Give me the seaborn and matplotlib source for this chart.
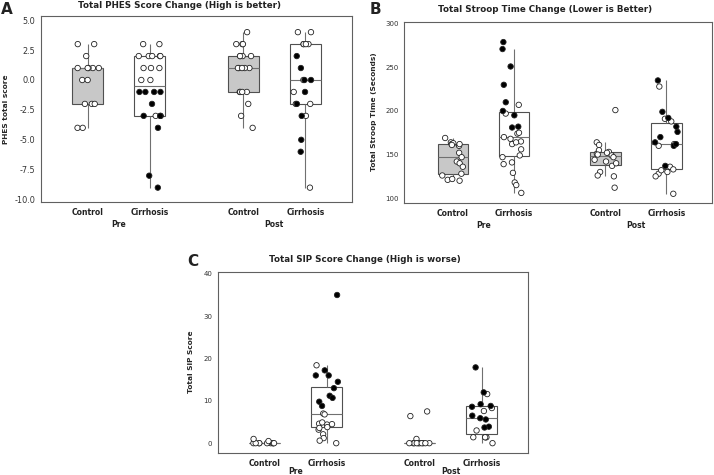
import numpy as np
import pandas as pd
import matplotlib.pyplot as plt
import seaborn as sns

times = ['Pre', 'Post']
groups = ['Control', 'Cirrhosis']

# Panel A: PHES total score (controls all open circles)
phes_ctrl_pre = [3, 3, 2, 1, 1, 1, 1, 1, 0, 0, -2, -2, -2, -4, -4]
phes_ctrl_post = [4, 3, 3, 3, 2, 2, 2, 2, 1, 1, 1, 1, 1, -1, -1, -1, -1, -2, -3, -4]
phes_cirr_pre_open = [3, 3, 2, 2, 2, 2, 2, 1, 1, 1, 0, 0, -3]
phes_cirr_pre_filled = [-1, -1, -1, -1, -2, -3, -3, -3, -4, -8, -9]
phes_cirr_post_open = [4, 4, 3, 3, 3, 3, 0, -1, -2, -2, -3, -9]
phes_cirr_post_filled = [2, 1, 0, 0, -1, -2, -3, -5, -6]

# Panel B: Stroop time (seconds)
stroop_ctrl_pre = [169, 164, 162, 160, 162, 163, 161, 152, 147, 142, 140, 136, 126, 128, 121, 122, 120]
stroop_ctrl_post = [201, 164, 161, 153, 151, 155, 152, 150, 149, 147, 144, 142, 137, 140, 130, 126, 125, 112]
stroop_cirr_pre_open = [207, 197, 174, 170, 168, 165, 162, 164, 175, 156, 149, 147, 141, 129, 139, 118, 115, 106]
stroop_cirr_pre_filled = [279, 271, 251, 230, 210, 200, 195, 182, 181]
stroop_cirr_post_open = [228, 191, 188, 162, 160, 136, 133, 130, 128, 125, 132, 105]
stroop_cirr_post_filled = [235, 199, 192, 182, 176, 170, 164, 160, 162, 137]

# Panel C: SIP score
sip_ctrl_pre = [0, 0, 0, 0, 0, 0, 0, 0, 0, 1.0, 0.5]
sip_ctrl_post = [7.5, 6.4, 1.0, 0, 0, 0, 0, 0, 0, 0, 0, 0, 0]
sip_cirr_pre_open = [18.4, 7.0, 6.8, 4.6, 4.4, 3.8, 4.9, 4.5, 3.2, 3.6, 2.1, 1.2, 0.6, 0.0]
sip_cirr_pre_filled = [35, 17.2, 16, 16, 14.5, 13, 11.2, 10.7, 9.8, 8.8]
sip_cirr_post_open = [11.6, 8.3, 7.6, 3.0, 1.4, 1.4, 1.4, 1.4, 0]
sip_cirr_post_filled = [17.9, 12.0, 8.6, 8.8, 9.2, 5.9, 6.5, 5.6, 3.9, 3.7]


def make_frame(ctrl_pre, ctrl_post, cirr_pre_open, cirr_pre_filled, cirr_post_open, cirr_post_filled):
    parts = [
        ('Pre', 'Control', ctrl_pre, False),
        ('Pre', 'Cirrhosis', cirr_pre_open, False),
        ('Pre', 'Cirrhosis', cirr_pre_filled, True),
        ('Post', 'Control', ctrl_post, False),
        ('Post', 'Cirrhosis', cirr_post_open, False),
        ('Post', 'Cirrhosis', cirr_post_filled, True),
    ]
    rows = []
    for t, g, vals, filled in parts:
        for v in vals:
            rows.append({'time': t, 'group': g, 'value': v, 'filled': filled})
    return pd.DataFrame(rows)


def draw_panel(ax, df, ylabel, yticks, ylim, xlim, fmt, ytick_size, time_pad, labelpad):
    sns.boxplot(data=df, x='time', y='value', hue='group', order=times, hue_order=groups,
                palette={'Control': '#c8c8c8', 'Cirrhosis': 'white'}, gap=0.5,
                showfliers=False, showcaps=False, linecolor='#505050', linewidth=0.8,
                medianprops={'color': '#707070'}, whiskerprops={'color': '#707070'},
                legend=False, ax=ax)
    for filled, face in [(False, 'white'), (True, 'black')]:
        sub = df[df['filled'] == filled]
        sns.stripplot(data=sub, x='time', y='value', hue='group', order=times, hue_order=groups,
                      palette={'Control': face, 'Cirrhosis': face}, dodge=True, jitter=0.15,
                      size=3.9, edgecolor='#222222', linewidth=0.6, legend=False, ax=ax)
    ax.set_xlim(*xlim)
    ax.set_ylim(*ylim)
    ax.set_yticks(yticks, labels=[fmt.format(v) for v in yticks])
    ax.set_xticks([-0.2, 0.2, 0.8, 1.2], labels=groups * 2, minor=True)
    ax.set_xticks([0, 1], labels=times)
    ax.tick_params(axis='x', which='major', length=0, pad=time_pad, labelsize=5.5, colors='#222222')
    ax.tick_params(axis='x', which='minor', length=2.5, pad=2, labelsize=5.5, colors='#222222',
                   color='#555555')
    ax.tick_params(axis='y', length=2.5, pad=1.5, labelsize=ytick_size, labelcolor='#333333',
                   color='#555555')
    for lab in ax.get_xticklabels(minor=True) + ax.get_xticklabels():
        lab.set_fontweight('bold')
    ax.set_xlabel('')
    ax.set_ylabel(ylabel, fontsize=5.3, fontweight='bold', labelpad=labelpad)
    for sp in ax.spines.values():
        sp.set_color('#606060')
        sp.set_linewidth(0.8)


sns.set_theme(style='white')
plt.rcParams['font.family'] = ['DejaVu Sans']
plt.rcParams['axes.unicode_minus'] = False
np.random.seed(7)

fig = plt.figure(figsize=(7.14, 4.75), dpi=100)
ax_a = fig.add_axes([41 / 714, 1 - 202 / 475, 311 / 714, 186 / 475])
ax_b = fig.add_axes([404 / 714, 1 - 202.5 / 475, 308 / 714, 181 / 475])
ax_c = fig.add_axes([218 / 714, 1 - 452.5 / 475, 310 / 714, 181 / 475])

draw_panel(ax_a, make_frame(phes_ctrl_pre, phes_ctrl_post, phes_cirr_pre_open, phes_cirr_pre_filled,
                            phes_cirr_post_open, phes_cirr_post_filled),
           'PHES total score', [-10, -7.5, -5, -2.5, 0, 2.5, 5], (-10.2, 5.35), (-0.5, 1.5), '{:.1f}',
           5.9, 13, 4)
draw_panel(ax_b, make_frame(stroop_ctrl_pre, stroop_ctrl_post, stroop_cirr_pre_open, stroop_cirr_pre_filled,
                            stroop_cirr_post_open, stroop_cirr_post_filled),
           'Total Stroop Time (Seconds)', [100, 150, 200, 250, 300], (95, 302.6), (-0.52, 1.5), '{:.0f}',
           5.0, 13, 6)
draw_panel(ax_c, make_frame(sip_ctrl_pre, sip_ctrl_post, sip_cirr_pre_open, sip_cirr_pre_filled,
                            sip_cirr_post_open, sip_cirr_post_filled),
           'Total SIP Score', [0, 10, 20, 30, 40], (-2.2, 40.55), (-0.5, 1.5), '{:.0f}',
           5.0, 10.5, 7)

title_kw = dict(fontsize=6.3, fontweight='bold', ha='center', va='center', color='#222222')
fig.text(179 / 714, 1 - 5.5 / 475, 'Total PHES Score Change (High is better)', **title_kw)
fig.text(545 / 714, 1 - 10 / 475, 'Total Stroop Time Change (Lower is Better)', **title_kw)
fig.text(365 / 714, 1 - 259 / 475, 'Total SIP Score Change (High is worse)', **title_kw)

letter_kw = dict(fontsize=11, fontweight='bold', ha='left', va='center', color='#222222')
fig.text(1 / 714, 1 - 9 / 475, 'A', **letter_kw)
fig.text(370 / 714, 1 - 10 / 475, 'B', **letter_kw)
fig.text(187 / 714, 1 - 262 / 475, 'C', **letter_kw)

fig.savefig('out.png', dpi=100)
